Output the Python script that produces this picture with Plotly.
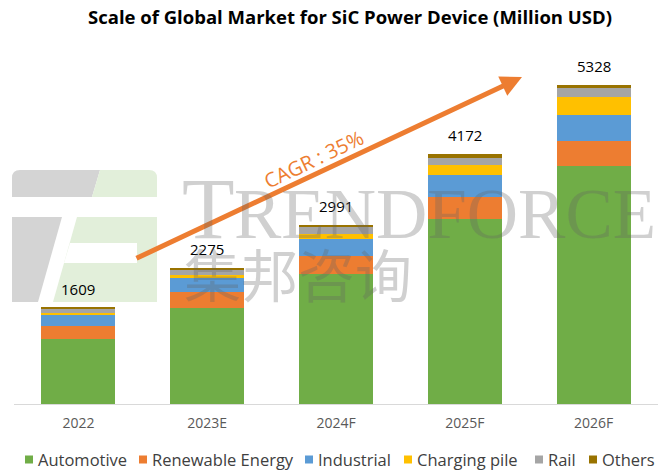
import plotly.graph_objects as go

categories = ["2022", "2023E", "2024F", "2025F", "2026F"]
totals = [1609, 2275, 2991, 4172, 5328]
automotive = [1090, 1609, 2170, 3090, 3983]
renewable = [211, 261, 295, 361, 411]
industrial = [189, 228, 295, 372, 439]
charging = [33, 56, 78, 167, 289]
rail = [67, 88, 115, 126, 150]
others = [19, 33, 38, 56, 56]

series_names = ["Automotive", "Renewable Energy", "Industrial", "Charging pile", "Rail", "Others"]
series_values = [automotive, renewable, industrial, charging, rail, others]
series_colors = ["#70AD47", "#ED7D31", "#5B9BD5", "#FFC000", "#A5A5A5", "#997300"]

cagr_label = "CAGR : 35%"
title_text = "Scale of Global Market for SiC Power Device (Million USD)"

W_FIG, H_FIG = 665, 476
L, R, T, B = 14, 658, 40, 404
PW, PH = R - L, B - T
Y_MAX = PH * 16.7


def px(x):
    return (x - L) / PW


def py(y):
    return (B - y) / PH


fig = go.Figure()
for name, vals, col in zip(series_names, series_values, series_colors):
    fig.add_trace(go.Bar(x=categories, y=vals, name=name, showlegend=False,
                         marker=dict(color=col, line=dict(width=0))))

FONT = "Open Sans, Noto Sans, sans-serif"

annotations = []
for i, t in enumerate(totals):
    annotations.append(dict(x=i, y=t, xref="x", yref="y", text=str(t), showarrow=False,
                            xanchor="center", yanchor="bottom", yshift=7,
                            font=dict(family=FONT, size=15, color="#000000")))

# growth arrow
annotations.append(dict(x=px(522), y=py(77), xref="paper", yref="paper",
                        ax=135 - 522, ay=259 - 77, axref="pixel", ayref="pixel",
                        showarrow=True, arrowhead=2, arrowsize=0.85, arrowwidth=5,
                        arrowcolor="#ED7D31", standoff=0, startstandoff=0, text=""))
annotations.append(dict(x=px(313), y=py(159), xref="paper", yref="paper", text=cagr_label,
                        showarrow=False, textangle=-25.5, xanchor="center", yanchor="middle",
                        font=dict(family=FONT, size=20, color="#ED7D31")))

# watermark
WM = "rgba(100,100,100,0.30)"
annotations.append(dict(x=px(180), y=py(209), xref="paper", yref="paper", text="T",
                        showarrow=False, xanchor="left", yanchor="middle",
                        font=dict(family="Liberation Serif", size=86, color=WM)))
annotations.append(dict(x=px(232), y=py(214), xref="paper", yref="paper", text="RENDFORCE",
                        showarrow=False, xanchor="left", yanchor="middle",
                        font=dict(family="Liberation Serif", size=71, color=WM)))
annotations.append(dict(x=px(298), y=py(272), xref="paper", yref="paper", text="集邦咨询",
                        showarrow=False, xanchor="center", yanchor="middle",
                        font=dict(family="Noto Sans CJK SC", size=57, color=WM)))

GRAY = "#D4D4D4"
GREEN = "#E2EFDA"


def path(points):
    return "M " + " L ".join(f"{px(x):.5f},{py(y):.5f}" for x, y in points) + " Z"


shapes = []
rr = 8
gray_top = (f"M {px(12):.5f},{py(197):.5f} L {px(12):.5f},{py(170+rr):.5f} "
            f"Q {px(12):.5f},{py(170):.5f} {px(12+rr):.5f},{py(170):.5f} "
            f"L {px(100):.5f},{py(170):.5f} L {px(92):.5f},{py(197):.5f} Z")
green_top = (f"M {px(100):.5f},{py(170):.5f} L {px(157-rr):.5f},{py(170):.5f} "
             f"Q {px(157):.5f},{py(170):.5f} {px(157):.5f},{py(170+rr):.5f} "
             f"L {px(157):.5f},{py(197):.5f} L {px(92):.5f},{py(197):.5f} Z")
for p, col in [(gray_top, GRAY), (green_top, GREEN),
               (path([(12, 217), (62, 217), (38, 302), (12, 302)]), GRAY),
               (path([(77, 217), (157, 217), (157, 302), (53, 302)]), GREEN),
               (path([(70, 243), (137, 243), (137, 263), (64, 263)]), "white")]:
    shapes.append(dict(type="path", path=p, xref="paper", yref="paper",
                       fillcolor=col, line=dict(width=0), layer="below"))

# legend drawn below the axis (square + label per series)
legend_square_left = [25, 139, 305, 404, 535, 589]
LEG_Y = 459.5
for name, col, sx in zip(series_names, series_colors, legend_square_left):
    shapes.append(dict(type="rect", xref="paper", yref="paper",
                       x0=px(sx), x1=px(sx + 8), y0=py(LEG_Y + 4), y1=py(LEG_Y - 4),
                       fillcolor=col, line=dict(width=0)))
    annotations.append(dict(x=px(sx + 11), y=py(LEG_Y), xref="paper", yref="paper",
                            text=name, showarrow=False, xanchor="left", yanchor="middle",
                            font=dict(family=FONT, size=16.5, color="#404040")))

fig.update_layout(
    width=W_FIG, height=H_FIG,
    margin=dict(l=L, r=W_FIG - R, t=T, b=H_FIG - B, pad=0, autoexpand=False),
    barmode="stack", bargap=0.425,
    paper_bgcolor="white", plot_bgcolor="rgba(0,0,0,0)",
    showlegend=False,
    title=dict(text="<b>" + title_text + "</b>", x=350 / W_FIG, xref="container",
               xanchor="center", y=1 - 18 / H_FIG, yanchor="middle",
               font=dict(family=FONT, size=18.5, color="#000000")),
    xaxis=dict(type="category", range=[-0.5, 4.5], showline=True, linecolor="#D9D9D9",
               linewidth=1, ticks="", showgrid=False, zeroline=False,
               tickfont=dict(family=FONT, size=14, color="#595959"), ticklabelstandoff=6),
    yaxis=dict(range=[0, Y_MAX], visible=False, showgrid=False, zeroline=False),
    annotations=annotations,
    shapes=shapes,
)

fig.write_html("out.html")
